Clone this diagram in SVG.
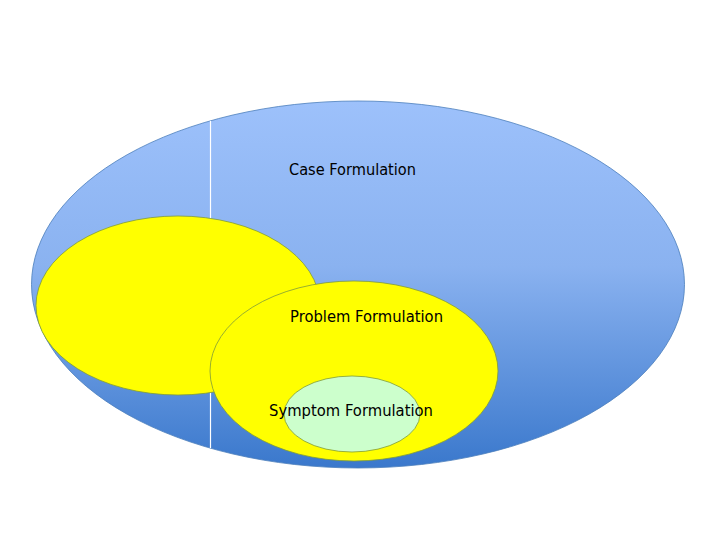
<svg xmlns="http://www.w3.org/2000/svg" width="720" height="540" viewBox="0 0 720 540">
<defs>
<linearGradient id="blueGrad" x1="0" y1="0" x2="0" y2="1">
<stop offset="0" stop-color="#9dc1fb"/>
<stop offset="0.45" stop-color="#8ab2f0"/>
<stop offset="1" stop-color="#3a78cc"/>
</linearGradient>
<style>
.lbl{font-family:"DejaVu Sans","Liberation Sans",sans-serif;font-size:15.5px;fill:#000;}
.yel{fill:#ffff00;stroke:#7f9a3a;stroke-width:0.8;}
</style>
</defs>
<rect width="720" height="540" fill="#ffffff"/>
<g id="case">
<ellipse cx="358" cy="284.5" rx="326.5" ry="183.5" fill="url(#blueGrad)" stroke="#4a7ebb" stroke-width="0.8"/>
<line x1="210.5" y1="121" x2="210.5" y2="448" stroke="#ffffff" stroke-width="1.2"/>
<text class="lbl" x="289" y="175" textLength="127" lengthAdjust="spacingAndGlyphs">Case Formulation</text>
</g>
<g id="left-yellow">
<ellipse class="yel" cx="178" cy="305.5" rx="142" ry="89.5"/>
</g>
<g id="problem">
<ellipse class="yel" cx="354" cy="371" rx="144" ry="90"/>
<text class="lbl" x="290" y="322" textLength="153" lengthAdjust="spacingAndGlyphs">Problem Formulation</text>
</g>
<g id="symptom">
<ellipse cx="352" cy="414" rx="68" ry="38" fill="#ccffcc" stroke="#7f9a3a" stroke-width="0.8"/>
<text class="lbl" x="269" y="416" textLength="164" lengthAdjust="spacingAndGlyphs">Symptom Formulation</text>
</g>
<g id="connectors"></g>
</svg>
